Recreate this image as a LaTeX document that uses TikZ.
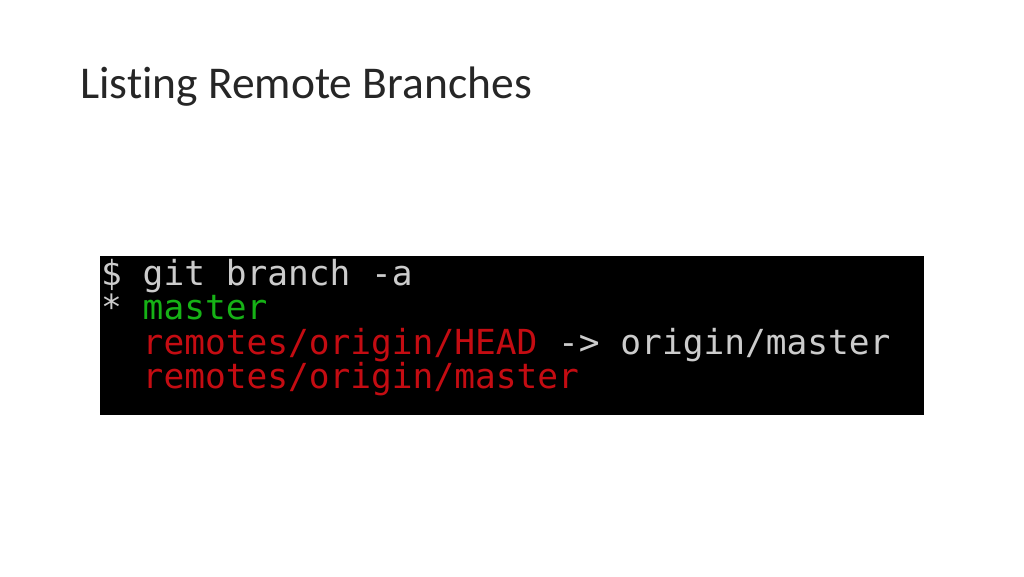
\documentclass[tikz,border=0pt]{standalone}
\usepackage{fontspec}
\setmainfont{Carlito}[Ligatures=NoCommon]
\newfontfamily\termfont{DejaVu Sans Mono}
\usetikzlibrary{positioning}
\definecolor{TermGray}{RGB}{204,204,204}
\definecolor{TermGreen}{RGB}{22,178,22}
\definecolor{TermRed}{RGB}{196,12,18}
\definecolor{TitleInk}{RGB}{38,38,38}
\tikzset{
  termline/.style={anchor=base west,inner sep=0pt,font=\termfont\fontsize{34.5}{34.5}\selectfont},
}

\begin{document}
\begin{tikzpicture}[x=1pt,y=-1pt]
    \useasboundingbox (0,0) rectangle (1024,576);
    \node[anchor=base west,inner sep=0pt,text=TitleInk,font=\fontsize{45.5}{45.5}\selectfont] (title) at (80,98) {Listing Remote Branches};
    \fill[black] (100,256) rectangle (924,415);
    \node[termline,text=TermGray] (cmd) at (101,285) {\$ git branch -a};
    \node[termline] (local) at (101,319.5) {\textcolor{TermGray}{*} \textcolor{TermGreen}{master}};
    \node[termline] (head) at (101,354) {\textcolor{TermRed}{\ \ remotes/origin/HEAD} \textcolor{TermGray}{-> origin/master}};
    \node[termline,text=TermRed] (remote) at (101,388.5) {\ \ remotes/origin/master};
   \end{tikzpicture}
\end{document}
